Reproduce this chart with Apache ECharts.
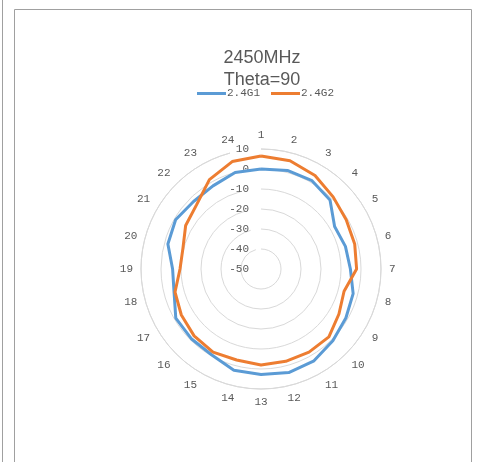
<!DOCTYPE html>
<html>
<head>
<meta charset="utf-8">
<script src="https://cdn.jsdelivr.net/npm/echarts@6/dist/echarts.min.js"></script>
<style>
html,body{margin:0;padding:0;background:#fff;}
#chart{width:479px;height:462px;}
</style>
</head>
<body>
<div id="chart"></div>
<script>
var categories = ['1','2','3','4','5','6','7','8','9','10','11','12','13','14','15','16','17','18','19','20','21','22','23','24'];
var radialTicks = [-50, -40, -30, -20, -10, 0, 10];
var seriesNames = ['2.4G1', '2.4G2'];
var g1 = [0, 1, 1, -1.2, -7.5, -6.3, -5.3, -2.3, -1, 0.8, 3, 3.6, 2.7, 2.4, -0.5, -0.7, -0.8, -5, -5.8, -1.8, -0.7, -2.3, -2, 0];
var g2 = [6.5, 6, 4, 1, -0.8, -1.5, -2.2, -7, -5, -2, -2, -2.2, -2, -2.9, -2, -2.7, -4, -5.5, -9.5, -9.6, -6.5, -4.5, 1.6, 5.6];

function closed(arr) {
  var out = arr.map(function (v, i) { return [v, categories[i]]; });
  out.push([arr[0], categories[0]]);
  return out;
}

var chart = echarts.init(document.getElementById('chart'));
var labelFont = "'Liberation Mono', 'DejaVu Sans Mono', monospace";
var rMin = radialTicks[0], rMax = radialTicks[radialTicks.length - 1];
chart.setOption({
  animation: false,
  backgroundColor: '#ffffff',
  title: {
    text: '2450MHz\nTheta=90',
    left: 262,
    textAlign: 'center',
    top: 47,
    padding: 0,
    textStyle: { fontFamily: "'Liberation Sans', Arial, sans-serif", fontSize: 18, fontWeight: 'normal', color: '#595959', lineHeight: 22 }
  },
  legend: {
    data: seriesNames,
    top: 88,
    left: 197,
    padding: 0,
    icon: 'rect',
    itemWidth: 29,
    itemHeight: 3,
    itemGap: 11,
    textStyle: { fontFamily: labelFont, fontSize: 11, color: '#595959', padding: [0, 0, 0, -4] }
  },
  graphic: [
    { type: 'line', shape: { x1: 2.5, y1: 0, x2: 2.5, y2: 462 }, style: { stroke: '#a0a0a0', lineWidth: 1 }, silent: true },
    { type: 'rect', shape: { x: 14.5, y: 9.5, width: 457, height: 470 }, style: { fill: null, stroke: '#a0a0a0', lineWidth: 1 }, silent: true }
  ],
  polar: [
    { center: [261, 269], radius: 120 },
    { center: [261, 269], radius: 120 }
  ],
  angleAxis: [
    {
      polarIndex: 0,
      type: 'category',
      data: categories,
      startAngle: 90,
      clockwise: true,
      boundaryGap: false,
      axisLine: { show: true, lineStyle: { color: '#d9d9d9', width: 1 } },
      axisTick: { show: false },
      splitLine: { show: false },
      axisLabel: { fontFamily: labelFont, fontSize: 11, color: '#595959', margin: 8 }
    },
    {
      polarIndex: 1,
      type: 'category',
      data: categories,
      startAngle: 90 + 180 / categories.length,
      clockwise: true,
      boundaryGap: true,
      axisLine: { show: false },
      axisTick: { show: false },
      splitLine: { show: false },
      axisLabel: { show: false }
    }
  ],
  radiusAxis: [
    {
      polarIndex: 0,
      type: 'value',
      min: rMin,
      max: rMax,
      interval: 10,
      axisLine: { show: false },
      axisTick: { show: false },
      splitLine: { show: true, lineStyle: { color: '#d9d9d9', width: 1 } },
      axisLabel: { fontFamily: labelFont, fontSize: 11, color: '#595959', margin: 12 }
    },
    {
      polarIndex: 1,
      type: 'value',
      min: rMin,
      max: rMax,
      interval: 10,
      axisLine: { show: false },
      axisTick: { show: false },
      splitLine: { show: false },
      axisLabel: { show: false }
    }
  ],
  series: [
    { name: seriesNames[0], type: 'line', coordinateSystem: 'polar', polarIndex: 1, clip: false, data: closed(g1), symbol: 'none', lineStyle: { width: 3, color: '#5B9BD5' }, itemStyle: { color: '#5B9BD5' } },
    { name: seriesNames[1], type: 'line', coordinateSystem: 'polar', polarIndex: 1, clip: false, data: closed(g2), symbol: 'none', lineStyle: { width: 3, color: '#ED7D31' }, itemStyle: { color: '#ED7D31' } }
  ]
});
</script>
</body>
</html>
